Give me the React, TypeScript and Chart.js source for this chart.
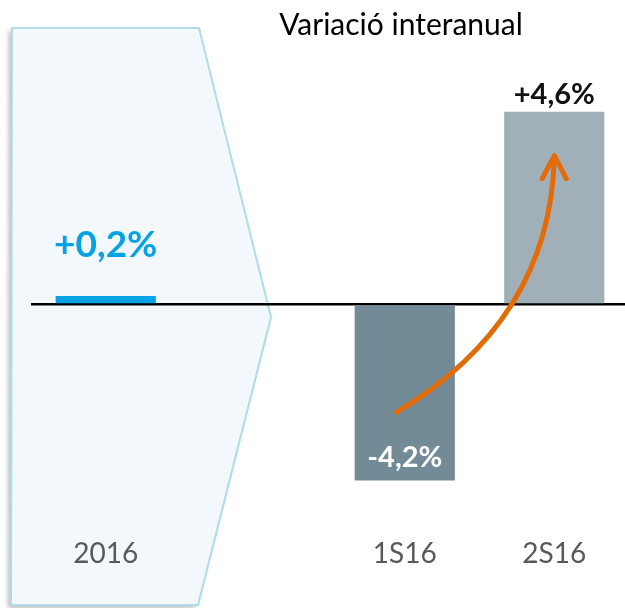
import React, { useEffect, useRef } from "react";
import { Chart, registerables } from "chart.js";

Chart.register(...registerables);

const categories = ["2016", "", "1S16", "2S16"];
const values: (number | null)[] = [0.2, null, -4.2, 4.6];
const barColors = ["#05a3e3", "rgba(0,0,0,0)", "#728b97", "#a1b0b8"];
const labelColors = ["#05a3e3", "#000000", "#ffffff", "#111111"];
const titleText = "Variació interanual";

const fmt = (v: number) =>
  (v > 0 ? "+" : "") + v.toFixed(1).replace(".", ",") + "%";

const decorPlugin = {
  id: "decor",
  beforeDraw(chart: any) {
    const ctx = chart.ctx;
    ctx.save();
    // background pentagon (arrow shape)
    ctx.beginPath();
    ctx.moveTo(12, 28);
    ctx.lineTo(199, 28);
    ctx.lineTo(271, 317);
    ctx.lineTo(198, 605);
    ctx.lineTo(11, 605);
    ctx.closePath();
    ctx.shadowColor = "rgba(0,0,0,0.28)";
    ctx.shadowBlur = 5;
    ctx.shadowOffsetX = -3;
    ctx.shadowOffsetY = 3;
    ctx.fillStyle = "#f2f8fb";
    ctx.fill();
    ctx.shadowColor = "rgba(0,0,0,0)";
    ctx.lineWidth = 2;
    ctx.strokeStyle = "#b0dbe8";
    ctx.stroke();
    // title
    ctx.fillStyle = "#000000";
    ctx.font = "30px Lato, 'Open Sans', sans-serif";
    ctx.textAlign = "center";
    ctx.textBaseline = "middle";
    ctx.fillText(titleText, 401, 25);
    ctx.restore();
  },
  afterDatasetsDraw(chart: any) {
    const ctx = chart.ctx;
    const xs = chart.scales.x;
    const ys = chart.scales.y;
    const meta = chart.getDatasetMeta(0);
    ctx.save();
    // orange arrow
    const sx = xs.getPixelForValue(2) - 10;
    const sy = ys.getPixelForValue(-2.6);
    const cx = xs.getPixelForValue(3) - 4;
    const cy = ys.getPixelForValue(-0.4);
    const ex = xs.getPixelForValue(3);
    const ey = ys.getPixelForValue(3.55);
    ctx.strokeStyle = "#e36c09";
    ctx.lineWidth = 5;
    ctx.lineCap = "butt";
    ctx.beginPath();
    ctx.moveTo(sx, sy);
    ctx.quadraticCurveTo(cx, cy, ex, ey + 2);
    ctx.stroke();
    ctx.lineCap = "round";
    ctx.lineJoin = "round";
    ctx.beginPath();
    ctx.moveTo(ex - 12, ey + 23);
    ctx.lineTo(ex, ey);
    ctx.lineTo(ex + 12, ey + 23);
    ctx.stroke();

    // value labels
    ctx.textAlign = "center";
    ctx.textBaseline = "middle";
    values.forEach((v, i) => {
      if (v === null) return;
      const el = meta.data[i];
      const x = el.x;
      let y: number;
      let size: number;
      if (i === 0) {
        y = el.y - 51;
        size = 37;
      } else if (v < 0) {
        y = el.y - 23;
        size = 29;
      } else {
        y = el.y - 17;
        size = 29;
      }
      ctx.font = `bold ${size}px Lato, 'Open Sans', sans-serif`;
      ctx.fillStyle = labelColors[i];
      ctx.fillText(fmt(v), x, y);
    });
    ctx.restore();
  },
};

export default function App() {
  const ref = useRef<HTMLCanvasElement | null>(null);
  useEffect(() => {
    if (!ref.current) return;
    const chart = new Chart(ref.current, {
      type: "bar",
      data: {
        labels: categories,
        datasets: [
          {
            data: values as any,
            backgroundColor: barColors,
            borderWidth: 0,
            barPercentage: 0.67,
            categoryPercentage: 1,
          },
        ],
      },
      options: {
        animation: false,
        responsive: true,
        maintainAspectRatio: false,
        layout: { padding: { left: 31, top: 53, right: 0, bottom: 32 } },
        plugins: {
          legend: { display: false },
          title: { display: false },
          tooltip: { enabled: false },
        },
        scales: {
          x: {
            grid: { display: false, drawTicks: false },
            border: { display: false },
            ticks: {
              color: "#595959",
              padding: 5,
              font: { family: "Lato, 'Open Sans', sans-serif", size: 28 },
            },
          },
          y: {
            display: true,
            min: -5.44,
            max: 6,
            ticks: { display: false, stepSize: 1 },
            border: { display: false },
            grid: {
              drawTicks: false,
              lineWidth: 2.5,
              color: (c: any) =>
                c.tick && c.tick.value === 0 ? "#000000" : "rgba(0,0,0,0)",
            },
          },
        },
      },
      plugins: [decorPlugin],
    });
    return () => chart.destroy();
  }, []);
  return (
    <div
      style={{
        position: "absolute",
        left: 0,
        top: 0,
        width: 625,
        height: 608,
        overflow: "hidden",
        background: "#ffffff",
      }}
    >
      <div style={{ position: "relative", width: 629, height: 608 }}>
        <canvas ref={ref} />
      </div>
    </div>
  );
}
